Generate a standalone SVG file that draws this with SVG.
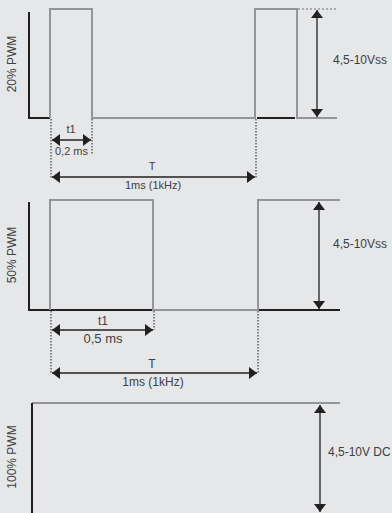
<svg xmlns="http://www.w3.org/2000/svg" width="392" height="513" viewBox="0 0 392 513">
<defs>
<style>
.bg{fill:#e6e7e8}
.k{stroke:#231f20;stroke-width:2;fill:none}
.g{stroke:#939598;stroke-width:2;fill:none}
.dot{stroke:#231f20;stroke-width:1;stroke-dasharray:1.5 1.5;fill:none}
.gdot{stroke:#939598;stroke-width:1.5;stroke-dasharray:2 2;fill:none}
.arr{stroke:#231f20;stroke-width:1.3;fill:none;marker-start:url(#ah);marker-end:url(#ah)}
text{font-family:"Liberation Sans",Arial,sans-serif;fill:#414042}
.s11{font-size:11px}
.s12{font-size:12px}
.s13{font-size:13px}
.c{text-anchor:middle}
</style>
<marker id="ah" viewBox="0 0 8 12" refX="8" refY="6" markerWidth="8" markerHeight="12" markerUnits="userSpaceOnUse" orient="auto-start-reverse">
<path d="M0,0 L8,6 L0,12 Z" fill="#231f20"/>
</marker>
</defs>
<rect class="bg" x="0" y="0" width="392" height="513"/>

<g id="panel-20">
<path class="k" d="M29,12 V118 H50"/>
<path class="g" d="M50,118 V9 H92 V118 H255 V9 H297 V118 H337"/>
<path class="k" d="M257,118 H295"/>
<path class="gdot" d="M298,9 H337"/>
<text class="s12 c" transform="translate(16,64) rotate(-90)">20% PWM</text>
<text class="s12" x="333" y="64">4,5-10Vss</text>
</g>

<g id="panel-50">
<path class="k" d="M29,202 V310 H153"/>
<path class="g" d="M50,310 V200 H153 V310 H258 V200 H340"/>
<path class="k" d="M259,310 H340"/>
<text class="s12 c" transform="translate(16,255) rotate(-90)">50% PWM</text>
<text class="s12" x="333" y="248">4,5-10Vss</text>
</g>

<g id="panel-100">
<path class="g" d="M32,403 H340"/>
<path class="k" d="M32,403 V513"/>
<text class="s12 c" transform="translate(16,457) rotate(-90)">100% PWM</text>
<text class="s12" x="328" y="456">4,5-10V DC</text>
</g>

<g id="connectors">
<path class="dot" d="M51,119 V178"/>
<path class="dot" d="M92,119 V155"/>
<path class="dot" d="M256,119 V178"/>
<path class="arr" d="M52,140 H91"/>
<path class="arr" d="M52,177 H255"/>
<path class="arr" d="M317,10 V117"/>

<path class="dot" d="M51,311 V373"/>
<path class="dot" d="M154,311 V330"/>
<path class="dot" d="M258,311 V373"/>
<path class="arr" d="M52,330 H153"/>
<path class="arr" d="M52,373 H257"/>
<path class="arr" d="M319,202 V309"/>

<path class="arr" d="M320,405 V512"/>
</g>

<g id="labels">
<text class="s11 c" x="71" y="133">t1</text>
<text class="s11 c" x="71.5" y="155">0,2 ms</text>
<text class="s11 c" x="152" y="170">T</text>
<text class="s11 c" x="153" y="189">1ms (1kHz)</text>
<text class="s12 c" x="103" y="325">t1</text>
<text class="s13 c" x="103" y="343">0,5 ms</text>
<text class="s12 c" x="152" y="368">T</text>
<text class="s12 c" x="153" y="386">1ms (1kHz)</text>
</g>
</svg>
